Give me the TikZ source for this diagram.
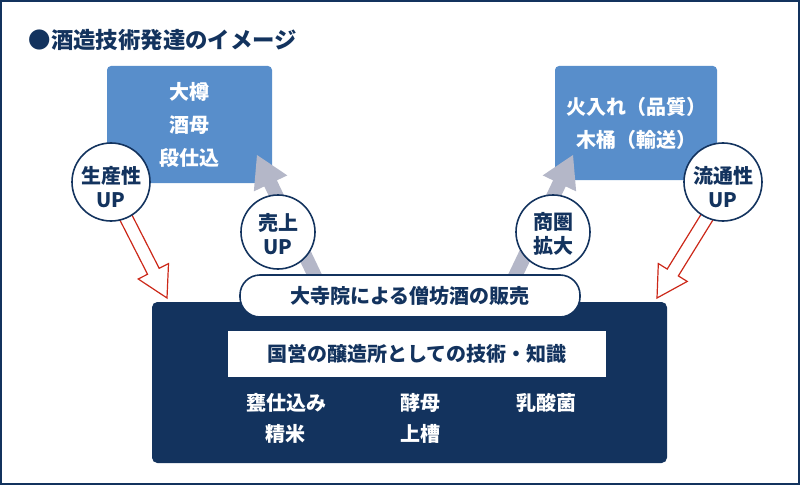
\documentclass[tikz,border=0pt]{standalone}
\usepackage{fontspec}
\setmainfont{Noto Sans CJK JP}
\usetikzlibrary{calc}
\definecolor{navy}{RGB}{19,51,94}
\definecolor{boxblue}{RGB}{88,142,203}
\definecolor{arrgray}{RGB}{180,183,200}
\definecolor{arrred}{RGB}{204,40,25}
\newcommand\fatarrow[6]{%
  \coordinate (Hfa) at ($(#2)!#5!(#1)$);
  \path[#6] ($(#1)!#3!90:(#2)$) -- ($(Hfa)!#3!90:(#2)$) -- ($(Hfa)!#4!90:(#2)$) -- (#2)
     -- ($(Hfa)!#4!-90:(#2)$) -- ($(Hfa)!#3!-90:(#2)$) -- ($(#1)!#3!-90:(#2)$) -- cycle;}
\tikzset{
  jp/.style={font=\fontsize{15}{18}\selectfont\bfseries},
  bluebox/.style={fill=boxblue, rounded corners=3pt, text=white, align=center, inner sep=0pt,
    font=\fontsize{15}{24.75}\selectfont\bfseries},
  badge/.style={circle, fill=white, draw=navy, line width=1.2pt, inner sep=0pt},
  badgetext/.style={text=navy, align=center, inner sep=0pt, font=\fontsize{15}{18.5}\selectfont\bfseries},
  item/.style={text=white, font=\fontsize{15}{18}\selectfont\bfseries},
  grayarrow/.style={fill=arrgray},
  redarrow/.style={draw=arrred, fill=white, line width=0.9pt, line join=miter},
}
\begin{document}
\begin{tikzpicture}[x=0.75pt,y=-0.75pt]
\useasboundingbox (0,0) rectangle (800,485);
\draw[navy, line width=1.5pt] (1,1) rectangle (799,484);
\node[anchor=west, text=navy, font=\fontsize{16.8}{20}\selectfont\bfseries] (title) at (24,40) {●酒造技術発達のイメージ};
% blue boxes
\node[bluebox, minimum width=123.75pt, minimum height=87.75pt] (lbox) at (189.5,124.5) {大樽\\酒母\\段仕込};
\node[bluebox, minimum width=121.5pt, minimum height=85.5pt] (rbox) at (636,123) {火入れ（品質）\\木桶（輸送）};
% gray arrows
\coordinate (lgS) at (323,293); \coordinate (lgT) at (257,155);
\coordinate (rgS) at (507,293); \coordinate (rgT) at (573,155);
\fatarrow{lgS}{lgT}{5.25pt}{13.9pt}{23.6pt}{grayarrow}
\fatarrow{rgS}{rgT}{5.25pt}{13.9pt}{23.6pt}{grayarrow}
% red hollow arrows
\coordinate (lrS) at (117,200); \coordinate (lrT) at (167,298);
\coordinate (rrS) at (717,201); \coordinate (rrT) at (657,298);
\fatarrow{lrS}{lrT}{4.9pt}{12.75pt}{22.5pt}{redarrow}
\fatarrow{rrS}{rrT}{4.9pt}{12.75pt}{22.5pt}{redarrow}
% base box
\node[fill=navy, rounded corners=4pt, minimum width=386.25pt, minimum height=120.75pt, inner sep=0pt] (base) at (409.5,382.5) {};
\node[fill=white, draw=navy, line width=1.2pt, rounded corners=15pt, minimum width=255pt, minimum height=31.5pt, inner sep=0pt, text=navy, jp] (pill) at (410,296) {大寺院による僧坊酒の販売};
\node[fill=white, minimum width=283.5pt, minimum height=34.5pt, inner sep=0pt, text=navy, jp] (tech) at (417,354) {国営の醸造所としての技術・知識};
\node[item] (i1) at (286,403) {甕仕込み};
\node[item] (i2) at (420,403) {酵母};
\node[item] (i3) at (546,403) {乳酸菌};
\node[item] (i4) at (285,434) {精米};
\node[item] (i5) at (420,434) {上槽};
% badges
\node[badge, minimum size=58.5pt] (c1) at (111,182) {};
\node[badge, minimum size=55.5pt] (c2) at (278,232) {};
\node[badge, minimum size=55.5pt] (c3) at (553,232) {};
\node[badge, minimum size=58.5pt] (c4) at (723,182) {};
\node[badgetext] (c1t) at ($(c1)+(0,5)$) {生産性\\UP};
\node[badgetext] (c2t) at ($(c2)+(0,2)$) {売上\\UP};
\node[badgetext] (c3t) at ($(c3)+(0,2)$) {商圏\\拡大};
\node[badgetext] (c4t) at ($(c4)+(0,5)$) {流通性\\UP};
\end{tikzpicture}
\end{document}
